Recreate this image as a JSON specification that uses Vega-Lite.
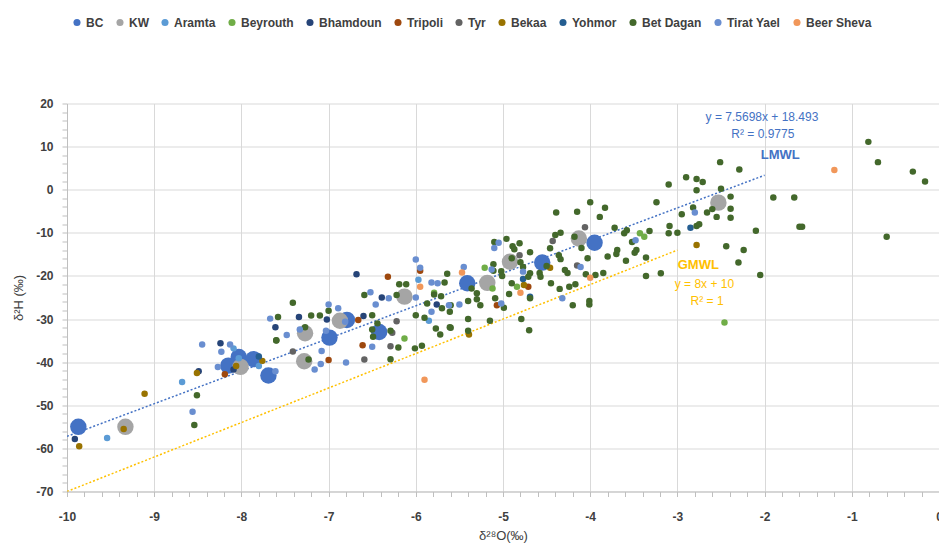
{
  "$schema": "https://vega.github.io/schema/vega-lite/v6.json",
  "width": 872,
  "height": 388,
  "autosize": {"type": "none"},
  "padding": {"left": 67, "top": 103.5, "right": 0, "bottom": 53.5},
  "background": "white",
  "config": {"view": {"stroke": null}, "font": "Liberation Sans"},
  "datasets": {
    "pts": [
      {"s":"BC","x":-9.87,"y":-55.0},{"s":"BC","x":-8.15,"y":-40.8},{"s":"BC","x":-8.03,"y":-38.8},{"s":"BC","x":-7.86,"y":-39.3},{"s":"BC","x":-7.69,"y":-43.1},{"s":"BC","x":-6.99,"y":-34.3},{"s":"BC","x":-6.79,"y":-30.2},{"s":"BC","x":-6.42,"y":-33.0},{"s":"BC","x":-5.41,"y":-21.7},{"s":"BC","x":-4.55,"y":-16.9},{"s":"BC","x":-3.95,"y":-12.3},
      {"s":"KW","x":-9.33,"y":-55.0},{"s":"KW","x":-8.01,"y":-41.1},{"s":"KW","x":-7.28,"y":-39.8},{"s":"KW","x":-7.27,"y":-33.3},{"s":"KW","x":-6.87,"y":-30.4},{"s":"KW","x":-6.13,"y":-24.8},{"s":"KW","x":-5.18,"y":-21.6},{"s":"KW","x":-4.92,"y":-16.7},{"s":"KW","x":-4.13,"y":-11.3},{"s":"KW","x":-2.53,"y":-3.0},
      {"s":"Aramta","x":-9.54,"y":-57.6},{"s":"Aramta","x":-8.68,"y":-44.6},{"s":"Aramta","x":-8.09,"y":-36.8},{"s":"Aramta","x":-8.03,"y":-39.1},{"s":"Aramta","x":-7.80,"y":-40.9},{"s":"Aramta","x":-5.97,"y":-20.9},{"s":"Aramta","x":-5.85,"y":-30.4},
      {"s":"Beyrouth","x":-6.13,"y":-34.5},{"s":"Beyrouth","x":-5.79,"y":-23.9},{"s":"Beyrouth","x":-5.21,"y":-18.1},{"s":"Beyrouth","x":-5.12,"y":-22.9},{"s":"Beyrouth","x":-4.84,"y":-22.5},{"s":"Beyrouth","x":-3.43,"y":-10.1},{"s":"Beyrouth","x":-3.38,"y":-10.9},{"s":"Beyrouth","x":-2.46,"y":-30.8},
      {"s":"Bhamdoun","x":-9.91,"y":-57.8},{"s":"Bhamdoun","x":-8.24,"y":-35.6},{"s":"Bhamdoun","x":-8.49,"y":-42.1},{"s":"Bhamdoun","x":-8.09,"y":-41.7},{"s":"Bhamdoun","x":-7.61,"y":-31.9},{"s":"Bhamdoun","x":-7.34,"y":-29.5},{"s":"Bhamdoun","x":-7.02,"y":-30.1},{"s":"Bhamdoun","x":-6.68,"y":-19.6},{"s":"Bhamdoun","x":-6.60,"y":-29.3},{"s":"Bhamdoun","x":-6.39,"y":-25.0},{"s":"Bhamdoun","x":-5.76,"y":-26.6},
      {"s":"Tripoli","x":-8.19,"y":-42.8},{"s":"Tripoli","x":-7.00,"y":-39.5},{"s":"Tripoli","x":-6.66,"y":-30.2},{"s":"Tripoli","x":-6.61,"y":-36.1},{"s":"Tripoli","x":-6.32,"y":-20.2},{"s":"Tripoli","x":-5.95,"y":-18.8},{"s":"Tripoli","x":-4.71,"y":-22.5},{"s":"Tripoli","x":-5.07,"y":-26.8},
      {"s":"Tyr","x":-7.41,"y":-37.5},{"s":"Tyr","x":-6.59,"y":-39.4},{"s":"Tyr","x":-6.29,"y":-36.3},{"s":"Tyr","x":-6.27,"y":-33.2},{"s":"Tyr","x":-6.22,"y":-30.5},{"s":"Tyr","x":-4.81,"y":-15.2},{"s":"Tyr","x":-4.43,"y":-11.9},{"s":"Tyr","x":-4.06,"y":-8.7},{"s":"Tyr","x":-4.15,"y":-17.6},
      {"s":"Bekaa","x":-9.86,"y":-59.5},{"s":"Bekaa","x":-9.35,"y":-55.5},{"s":"Bekaa","x":-9.11,"y":-47.3},{"s":"Bekaa","x":-8.51,"y":-42.5},{"s":"Bekaa","x":-8.06,"y":-40.9},{"s":"Bekaa","x":-7.76,"y":-39.7},{"s":"Bekaa","x":-5.39,"y":-33.6},{"s":"Bekaa","x":-4.46,"y":-18.1},{"s":"Bekaa","x":-4.76,"y":-22.1},{"s":"Bekaa","x":-2.78,"y":-12.8},
      {"s":"Yohmor","x":-7.80,"y":-38.7},{"s":"Yohmor","x":-4.77,"y":-20.7},{"s":"Yohmor","x":-4.69,"y":-24.8},{"s":"Yohmor","x":-2.85,"y":-8.8},
      {"s":"Bet Dagan","x":-8.51,"y":-47.7},{"s":"Bet Dagan","x":-8.54,"y":-54.6},{"s":"Bet Dagan","x":-7.60,"y":-35.0},{"s":"Bet Dagan","x":-7.23,"y":-39.4},
      {"s":"Bet Dagan","x":-5.64,"y":-19.5},{"s":"Bet Dagan","x":-5.67,"y":-21.5},{"s":"Bet Dagan","x":-6.19,"y":-21.9},{"s":"Bet Dagan","x":-6.11,"y":-21.9},{"s":"Bet Dagan","x":-6.22,"y":-24.4},{"s":"Bet Dagan","x":-6.59,"y":-24.4},{"s":"Bet Dagan","x":-5.79,"y":-24.3},{"s":"Bet Dagan","x":-5.71,"y":-24.7},{"s":"Bet Dagan","x":-5.87,"y":-26.4},{"s":"Bet Dagan","x":-5.70,"y":-27.5},{"s":"Bet Dagan","x":-5.61,"y":-28.3},{"s":"Bet Dagan","x":-6.00,"y":-29.1},{"s":"Bet Dagan","x":-5.90,"y":-29.7},{"s":"Bet Dagan","x":-5.77,"y":-32.2},{"s":"Bet Dagan","x":-5.72,"y":-33.6},{"s":"Bet Dagan","x":-5.60,"y":-32.0},{"s":"Bet Dagan","x":-5.40,"y":-30.0},{"s":"Bet Dagan","x":-5.40,"y":-32.7},{"s":"Bet Dagan","x":-5.36,"y":-22.9},{"s":"Bet Dagan","x":-5.30,"y":-24.0},{"s":"Bet Dagan","x":-5.40,"y":-25.8},{"s":"Bet Dagan","x":-5.30,"y":-25.4},{"s":"Bet Dagan","x":-6.50,"y":-32.4},{"s":"Bet Dagan","x":-6.49,"y":-34.1},{"s":"Bet Dagan","x":-6.44,"y":-31.0},{"s":"Bet Dagan","x":-6.29,"y":-32.7},{"s":"Bet Dagan","x":-6.20,"y":-36.6},{"s":"Bet Dagan","x":-6.01,"y":-36.8},{"s":"Bet Dagan","x":-5.93,"y":-36.2},{"s":"Bet Dagan","x":-6.29,"y":-39.3},{"s":"Bet Dagan","x":-6.50,"y":-29.1},{"s":"Bet Dagan","x":-7.00,"y":-28.1},{"s":"Bet Dagan","x":-7.10,"y":-29.2},{"s":"Bet Dagan","x":-7.20,"y":-29.2},{"s":"Bet Dagan","x":-7.41,"y":-26.2},{"s":"Bet Dagan","x":-7.58,"y":-29.5},{"s":"Bet Dagan","x":-7.60,"y":-34.9},{"s":"Bet Dagan","x":-7.27,"y":-31.9},
      {"s":"Bet Dagan","x":-3.10,"y":1.2},{"s":"Bet Dagan","x":-2.90,"y":2.9},{"s":"Bet Dagan","x":-3.24,"y":-2.9},{"s":"Bet Dagan","x":-4.00,"y":-2.9},{"s":"Bet Dagan","x":-3.83,"y":-4.2},{"s":"Bet Dagan","x":-4.15,"y":-5.1},{"s":"Bet Dagan","x":-4.39,"y":-5.3},{"s":"Bet Dagan","x":-3.89,"y":-6.3},{"s":"Bet Dagan","x":-2.95,"y":-5.7},{"s":"Bet Dagan","x":-3.09,"y":-8.4},{"s":"Bet Dagan","x":-3.10,"y":-10.1},{"s":"Bet Dagan","x":-3.00,"y":-10.0},{"s":"Bet Dagan","x":-3.72,"y":-8.8},{"s":"Bet Dagan","x":-3.58,"y":-9.4},{"s":"Bet Dagan","x":-3.61,"y":-10.1},{"s":"Bet Dagan","x":-3.32,"y":-9.6},{"s":"Bet Dagan","x":-3.52,"y":-12.1},{"s":"Bet Dagan","x":-3.47,"y":-14.0},{"s":"Bet Dagan","x":-3.49,"y":-14.6},{"s":"Bet Dagan","x":-3.36,"y":-15.7},{"s":"Bet Dagan","x":-3.59,"y":-16.5},{"s":"Bet Dagan","x":-3.36,"y":-20.0},{"s":"Bet Dagan","x":-3.19,"y":-19.4},{"s":"Bet Dagan","x":-4.40,"y":-10.5},{"s":"Bet Dagan","x":-4.34,"y":-10.0},{"s":"Bet Dagan","x":-4.18,"y":-10.9},{"s":"Bet Dagan","x":-4.10,"y":-13.5},{"s":"Bet Dagan","x":-4.03,"y":-15.9},{"s":"Bet Dagan","x":-3.80,"y":-15.5},{"s":"Bet Dagan","x":-3.69,"y":-14.0},{"s":"Bet Dagan","x":-3.70,"y":-14.9},{"s":"Bet Dagan","x":-4.46,"y":-13.6},{"s":"Bet Dagan","x":-4.36,"y":-15.2},{"s":"Bet Dagan","x":-4.34,"y":-16.1},{"s":"Bet Dagan","x":-4.50,"y":-17.7},{"s":"Bet Dagan","x":-4.58,"y":-19.3},{"s":"Bet Dagan","x":-4.57,"y":-20.2},{"s":"Bet Dagan","x":-4.29,"y":-18.6},{"s":"Bet Dagan","x":-4.26,"y":-19.3},{"s":"Bet Dagan","x":-4.05,"y":-19.6},{"s":"Bet Dagan","x":-3.94,"y":-19.8},{"s":"Bet Dagan","x":-3.85,"y":-19.3},{"s":"Bet Dagan","x":-4.45,"y":-21.7},{"s":"Bet Dagan","x":-4.35,"y":-23.0},{"s":"Bet Dagan","x":-4.24,"y":-22.5},{"s":"Bet Dagan","x":-4.17,"y":-21.9},{"s":"Bet Dagan","x":-4.01,"y":-25.8},{"s":"Bet Dagan","x":-4.01,"y":-26.6},{"s":"Bet Dagan","x":-4.20,"y":-26.8},{"s":"Bet Dagan","x":-4.70,"y":-32.6},{"s":"Bet Dagan","x":-4.79,"y":-30.0},{"s":"Bet Dagan","x":-5.15,"y":-30.4},{"s":"Bet Dagan","x":-5.10,"y":-12.1},{"s":"Bet Dagan","x":-4.96,"y":-11.4},{"s":"Bet Dagan","x":-4.89,"y":-13.1},{"s":"Bet Dagan","x":-4.81,"y":-12.4},{"s":"Bet Dagan","x":-4.87,"y":-13.8},{"s":"Bet Dagan","x":-4.69,"y":-14.5},{"s":"Bet Dagan","x":-4.90,"y":-15.9},{"s":"Bet Dagan","x":-4.80,"y":-16.8},{"s":"Bet Dagan","x":-5.11,"y":-17.3},{"s":"Bet Dagan","x":-5.02,"y":-18.9},{"s":"Bet Dagan","x":-5.11,"y":-18.8},{"s":"Bet Dagan","x":-5.01,"y":-20.0},{"s":"Bet Dagan","x":-4.77,"y":-17.9},{"s":"Bet Dagan","x":-4.90,"y":-21.7},{"s":"Bet Dagan","x":-4.69,"y":-25.2},{"s":"Bet Dagan","x":-4.93,"y":-24.2},{"s":"Bet Dagan","x":-5.26,"y":-26.8},{"s":"Bet Dagan","x":-4.99,"y":-27.4},{"s":"Bet Dagan","x":-5.09,"y":-25.2},{"s":"Bet Dagan","x":-5.60,"y":-26.8},{"s":"Bet Dagan","x":-5.61,"y":-31.9},{"s":"Bet Dagan","x":-4.69,"y":-19.4},{"s":"Bet Dagan","x":-4.71,"y":-20.2},
      {"s":"Bet Dagan","x":-0.81,"y":11.1},{"s":"Bet Dagan","x":-0.70,"y":6.4},{"s":"Bet Dagan","x":-0.30,"y":4.2},{"s":"Bet Dagan","x":-0.16,"y":1.9},{"s":"Bet Dagan","x":-0.60,"y":-10.9},{"s":"Bet Dagan","x":-1.90,"y":-1.8},{"s":"Bet Dagan","x":-1.66,"y":-1.8},{"s":"Bet Dagan","x":-1.60,"y":-8.6},{"s":"Bet Dagan","x":-1.57,"y":-8.6},{"s":"Bet Dagan","x":-2.10,"y":-9.5},{"s":"Bet Dagan","x":-2.05,"y":-19.8},{"s":"Bet Dagan","x":-2.51,"y":6.4},{"s":"Bet Dagan","x":-2.29,"y":4.7},{"s":"Bet Dagan","x":-2.78,"y":2.5},{"s":"Bet Dagan","x":-2.71,"y":1.8},{"s":"Bet Dagan","x":-2.78,"y":-0.1},{"s":"Bet Dagan","x":-2.50,"y":0.2},{"s":"Bet Dagan","x":-2.39,"y":-1.6},{"s":"Bet Dagan","x":-2.39,"y":-4.4},{"s":"Bet Dagan","x":-2.39,"y":-6.5},{"s":"Bet Dagan","x":-2.55,"y":-6.3},{"s":"Bet Dagan","x":-2.60,"y":-4.5},{"s":"Bet Dagan","x":-2.66,"y":-5.3},{"s":"Bet Dagan","x":-2.82,"y":-4.1},{"s":"Bet Dagan","x":-2.78,"y":-8.4},{"s":"Bet Dagan","x":-2.75,"y":-8.0},{"s":"Bet Dagan","x":-2.44,"y":-13.1},{"s":"Bet Dagan","x":-2.24,"y":-14.0},{"s":"Bet Dagan","x":-2.30,"y":-16.9},
      {"s":"Tirat Yael","x":-8.56,"y":-51.5},{"s":"Tirat Yael","x":-8.45,"y":-35.9},{"s":"Tirat Yael","x":-8.23,"y":-37.6},{"s":"Tirat Yael","x":-8.13,"y":-35.9},{"s":"Tirat Yael","x":-8.27,"y":-41.1},{"s":"Tirat Yael","x":-7.61,"y":-42.1},{"s":"Tirat Yael","x":-7.67,"y":-29.9},{"s":"Tirat Yael","x":-7.48,"y":-33.7},{"s":"Tirat Yael","x":-7.33,"y":-32.4},{"s":"Tirat Yael","x":-7.03,"y":-32.7},{"s":"Tirat Yael","x":-7.00,"y":-26.6},{"s":"Tirat Yael","x":-6.89,"y":-27.5},{"s":"Tirat Yael","x":-6.81,"y":-30.6},{"s":"Tirat Yael","x":-7.08,"y":-37.4},{"s":"Tirat Yael","x":-7.09,"y":-40.4},{"s":"Tirat Yael","x":-7.16,"y":-41.7},{"s":"Tirat Yael","x":-6.80,"y":-40.1},{"s":"Tirat Yael","x":-6.52,"y":-23.8},{"s":"Tirat Yael","x":-6.46,"y":-26.6},{"s":"Tirat Yael","x":-6.50,"y":-36.4},{"s":"Tirat Yael","x":-6.31,"y":-25.2},{"s":"Tirat Yael","x":-6.00,"y":-25.0},{"s":"Tirat Yael","x":-6.00,"y":-16.2},{"s":"Tirat Yael","x":-5.95,"y":-18.1},{"s":"Tirat Yael","x":-5.82,"y":-21.5},{"s":"Tirat Yael","x":-5.75,"y":-21.7},{"s":"Tirat Yael","x":-5.82,"y":-28.3},{"s":"Tirat Yael","x":-5.62,"y":-26.8},{"s":"Tirat Yael","x":-5.50,"y":-26.6},{"s":"Tirat Yael","x":-5.45,"y":-17.9},{"s":"Tirat Yael","x":-5.10,"y":-13.5},{"s":"Tirat Yael","x":-5.05,"y":-12.3},{"s":"Tirat Yael","x":-5.13,"y":-18.5},{"s":"Tirat Yael","x":-4.77,"y":-19.0},{"s":"Tirat Yael","x":-5.02,"y":-26.4},{"s":"Tirat Yael","x":-4.32,"y":-25.2},{"s":"Tirat Yael","x":-4.11,"y":-17.9},{"s":"Tirat Yael","x":-3.48,"y":-11.7},{"s":"Tirat Yael","x":-2.80,"y":-5.3},
      {"s":"Beer Sheva","x":-5.95,"y":-22.5},{"s":"Beer Sheva","x":-5.47,"y":-19.2},{"s":"Beer Sheva","x":-5.90,"y":-44.1},{"s":"Beer Sheva","x":-4.80,"y":-23.9},{"s":"Beer Sheva","x":-4.00,"y":-20.4},{"s":"Beer Sheva","x":-1.20,"y":4.6}
    ],
    "lines": [
      {"line":"LMWL","x":-10,"y":-57.205},{"line":"LMWL","x":-2,"y":3.353},
      {"line":"GMWL","x":-10,"y":-70},{"line":"GMWL","x":-3,"y":-14}
    ],
    "notes": [
      {"kind":"leq","t":"y = 7.5698x + 18.493","x":-2.03,"y":16.9},
      {"kind":"leq","t":"R² = 0.9775","x":-2.02,"y":12.9},
      {"kind":"lname","t":"LMWL","x":-1.82,"y":8.1},
      {"kind":"gname","t":"GMWL","x":-2.76,"y":-17.5},
      {"kind":"geq","t":"y = 8x + 10","x":-2.69,"y":-21.9},
      {"kind":"geq","t":"R² = 1","x":-2.66,"y":-25.8}
    ]
  },
  "encoding": {
    "x": {
      "field": "x", "type": "quantitative",
      "scale": {"domain": [-10, 0], "nice": false, "zero": false},
      "axis": {
        "title": "δ²⁸O(‰)",
        "values": [-10,-9.8,-9.6,-9.4,-9.2,-9,-8.8,-8.6,-8.4,-8.2,-8,-7.8,-7.6,-7.4,-7.2,-7,-6.8,-6.6,-6.4,-6.2,-6,-5.8,-5.6,-5.4,-5.2,-5,-4.8,-4.6,-4.4,-4.2,-4,-3.8,-3.6,-3.4,-3.2,-3,-2.8,-2.6,-2.4,-2.2,-2,-1.8,-1.6,-1.4,-1.2,-1,-0.8,-0.6,-0.4,-0.2,0],
        "labelExpr": "abs(datum.value - round(datum.value)) < 0.001 ? toString(round(datum.value)) : ''",
        "labelOverlap": false,
        "labelFlush": false,
        "labelFont": "Liberation Sans", "labelFontSize": 12, "labelFontWeight": "bold", "labelColor": "#404040",
        "labelPadding": 15,
        "tickSize": 5, "tickColor": "#bfbfbf", "domainColor": "#bfbfbf",
        "grid": true, "gridColor": "#d9d9d9",
        "gridOpacity": {"condition": {"test": "abs(datum.value - round(datum.value)) < 0.001", "value": 1}, "value": 0},
        "titleFont": "Liberation Sans", "titleFontSize": 13, "titleFontWeight": "normal", "titleColor": "#404040", "titlePadding": 7
      }
    },
    "y": {
      "field": "y", "type": "quantitative",
      "scale": {"domain": [-70, 20], "nice": false, "zero": false},
      "axis": {
        "title": "δ²H (‰)",
        "values": [-70,-68,-66,-64,-62,-60,-58,-56,-54,-52,-50,-48,-46,-44,-42,-40,-38,-36,-34,-32,-30,-28,-26,-24,-22,-20,-18,-16,-14,-12,-10,-8,-6,-4,-2,0,2,4,6,8,10,12,14,16,18,20],
        "labelExpr": "datum.value % 10 === 0 ? toString(datum.value) : ''",
        "labelOverlap": false,
        "labelFont": "Liberation Sans", "labelFontSize": 12, "labelFontWeight": "bold", "labelColor": "#404040",
        "labelPadding": 9,
        "tickSize": 5, "tickColor": "#bfbfbf", "domainColor": "#bfbfbf",
        "grid": true, "gridColor": "#d9d9d9",
        "gridOpacity": {"condition": {"test": "datum.value % 10 === 0", "value": 1}, "value": 0},
        "titleFont": "Liberation Sans", "titleFontSize": 13, "titleFontWeight": "normal", "titleColor": "#404040", "titlePadding": 10
      }
    }
  },
  "layer": [
    {
      "data": {"name": "lines"},
      "transform": [{"filter": "datum.line === 'LMWL'"}],
      "mark": {"type": "line", "color": "#4472C4", "strokeDash": [2, 2], "strokeWidth": 1.5, "clip": true},
      "encoding": {}
    },
    {
      "data": {"name": "lines"},
      "transform": [{"filter": "datum.line === 'GMWL'"}],
      "mark": {"type": "line", "color": "#FFC000", "strokeDash": [2, 2], "strokeWidth": 1.5, "clip": true},
      "encoding": {}
    },
    {
      "data": {"name": "pts"},
      "mark": {"type": "point", "shape": "circle", "filled": true, "opacity": 1},
      "encoding": {
        "color": {
          "field": "s", "type": "nominal",
          "scale": {
            "domain": ["BC","KW","Aramta","Beyrouth","Bhamdoun","Tripoli","Tyr","Bekaa","Yohmor","Bet Dagan","Tirat Yael","Beer Sheva"],
            "range": ["#4472C4","#A5A5A5","#5B9BD5","#70AD47","#264478","#9E480E","#636363","#997300","#255E91","#43682B","#698ED0","#F1975A"]
          },
          "legend": {
            "title": null, "orient": "none", "direction": "horizontal", "columns": 12,
            "legendX": 4, "legendY": -87, "padding": 0,
            "labelFont": "Liberation Sans", "labelFontSize": 12, "labelFontWeight": "bold", "labelColor": "#404040",
            "symbolType": "circle", "symbolSize": 50, "symbolStrokeWidth": 0,
            "columnPadding": 10, "labelOffset": 3,
            "encode": {"symbols": {"update": {"size": {"signal": "datum.value === 'BC' || datum.value === 'KW' ? 140 : 50"}}}}
          }
        },
        "size": {"condition": {"test": "datum.s === 'BC' || datum.s === 'KW'", "value": 270}, "value": 42}
      }
    },
    {
      "data": {"name": "notes"},
      "transform": [{"filter": "datum.kind === 'leq'"}],
      "mark": {"type": "text", "color": "#4472C4", "font": "Liberation Sans", "fontSize": 12, "align": "center", "baseline": "middle"},
      "encoding": {"text": {"field": "t"}}
    },
    {
      "data": {"name": "notes"},
      "transform": [{"filter": "datum.kind === 'lname'"}],
      "mark": {"type": "text", "color": "#4472C4", "font": "Liberation Sans", "fontSize": 13, "fontWeight": "bold", "align": "center", "baseline": "middle"},
      "encoding": {"text": {"field": "t"}}
    },
    {
      "data": {"name": "notes"},
      "transform": [{"filter": "datum.kind === 'gname'"}],
      "mark": {"type": "text", "color": "#FFC000", "font": "Liberation Sans", "fontSize": 13, "fontWeight": "bold", "align": "center", "baseline": "middle"},
      "encoding": {"text": {"field": "t"}}
    },
    {
      "data": {"name": "notes"},
      "transform": [{"filter": "datum.kind === 'geq'"}],
      "mark": {"type": "text", "color": "#FFC000", "font": "Liberation Sans", "fontSize": 12, "align": "center", "baseline": "middle"},
      "encoding": {"text": {"field": "t"}}
    }
  ]
}
